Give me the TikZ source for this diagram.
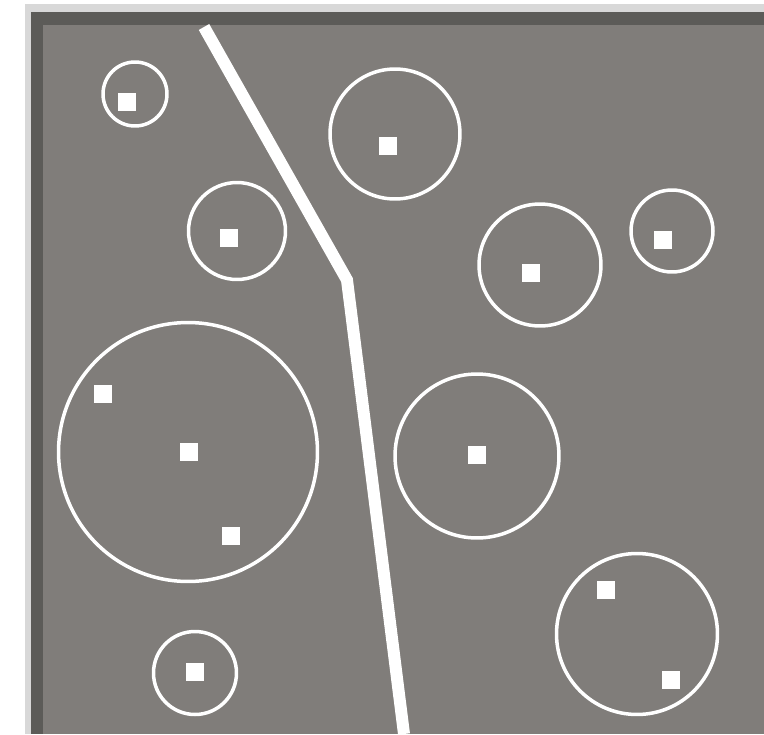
\documentclass[tikz,border=0pt]{standalone}
\definecolor{fieldgray}{RGB}{128,125,122}
\definecolor{framegray}{RGB}{92,91,88}
\definecolor{edgegray}{RGB}{216,216,216}
\colorlet{field}{fieldgray}
\colorlet{frame}{framegray}
\usepackage{tikz}
\usetikzlibrary{positioning}

\begin{document}
\begin{tikzpicture}[
    x=0.02cm, y=-0.02cm,
    zone/.style={circle, draw=white, line width=0.07cm, minimum size=#1, inner sep=0pt},
    site/.style={fill=white, minimum size=0.37cm, inner sep=0pt},
    border/.style={draw=white, line width=0.24cm},
  ]
    \useasboundingbox (0,0) rectangle (764,734);
    % frame and field
    \fill[white] (0,0) rectangle (764,734);
    \fill[edgegray] (25,4) rectangle (764,734);
    \fill[frame] (31,12) rectangle (764,734);
    \fill[field] (43,25) rectangle (764,734);

    % zones
    \node[zone=1.28cm] (z1) at (135,94) {};
    \node[zone=2.60cm] (z2) at (395,134) {};
    \node[zone=1.94cm] (z3) at (237,231) {};
    \node[zone=2.44cm] (z4) at (540,265) {};
    \node[zone=1.64cm] (z5) at (672,231) {};
    \node[zone=5.18cm] (z6) at (188,452) {};
    \node[zone=3.28cm] (z7) at (477,456) {};
    \node[zone=3.22cm] (z8) at (637,634) {};
    \node[zone=1.66cm] (z9) at (195,673) {};

    % sites
    \node[site] (s1) at (127,102) {};
    \node[site] (s2) at (388,146) {};
    \node[site] (s3) at (229,238) {};
    \node[site] (s4) at (531,273) {};
    \node[site] (s5) at (663,240) {};
    \node[site] (s6a) at (103,394) {};
    \node[site] (s6b) at (189,452) {};
    \node[site] (s6c) at (231,536) {};
    \node[site] (s7) at (477,455) {};
    \node[site] (s8a) at (606,590) {};
    \node[site] (s8b) at (671,680) {};
    \node[site] (s9) at (195,672) {};

    % dividing line
    \coordinate (top) at (204,27);
    \coordinate (bend) at (347,280);
    \coordinate (foot) at (404,734);
    \draw[border] (top) -- (bend) -- (foot);
  \end{tikzpicture}
\end{document}
